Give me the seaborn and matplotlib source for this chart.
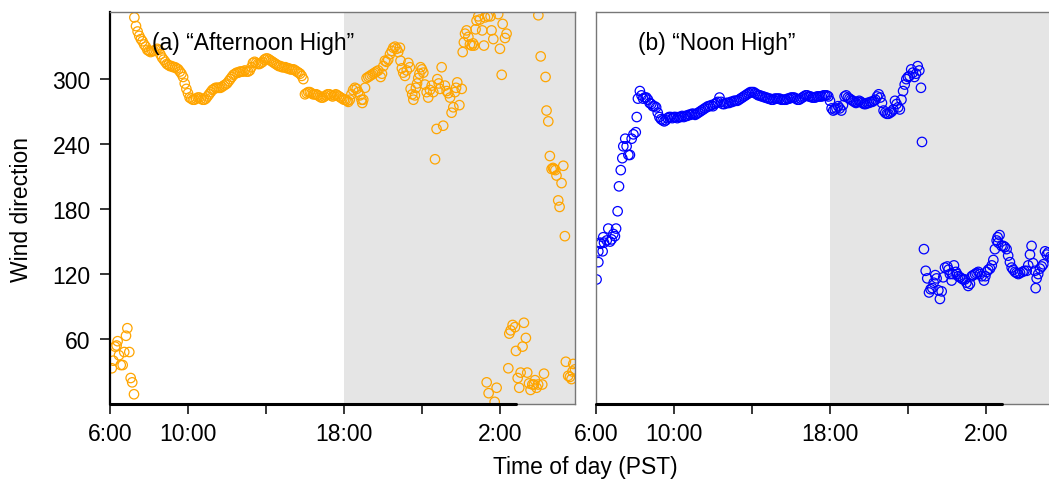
import numpy as np
import pandas as pd
import matplotlib
matplotlib.use("Agg")
import matplotlib.pyplot as plt
import seaborn as sns

sns.set_style("white")
plt.rcParams['font.family'] = ['Liberation Sans', 'DejaVu Sans']

# hours after 6:00 PST
tick_hours = [0, 4, 8, 12, 16, 20]
tick_labels = ["6:00", "10:00", "", "18:00", "", "2:00"]
y_ticks = [60, 120, 180, 240, 300]
night_start = 12

# ---------------- panel (a) "Afternoon High" ----------------
a_morning = [(0.09, 33), (0.17, 40), (0.26, 53), (0.34, 54), (0.39, 58), (0.46, 45),
             (0.55, 36), (0.65, 36), (0.73, 48), (0.82, 63), (0.89, 70), (0.99, 48),
             (1.06, 24), (1.14, 20), (1.23, 9)]
a_day_start = 1.25   # 5-minute readings from here
a_day = [357, 349, 344, 340, 337, 335, 332, 330, 327, 326, 325, 326,
         326, 327, 328, 327, 323, 320, 318, 316, 314, 313, 312, 312,
         311, 311, 310, 309, 307, 305, 302, 296, 291, 287, 283, 282,
         281, 281, 282, 283, 283, 282, 281, 281, 282, 284, 286, 288,
         290, 291, 292, 292, 292, 292, 293, 294, 295, 296, 298, 300,
         302, 304, 305, 306, 306, 307, 307, 307, 308, 307, 307, 308,
         311, 315, 316, 315, 314, 314, 315, 316, 318, 319, 319, 318,
         317, 316, 315, 314, 313, 312, 312, 311, 311, 311, 310, 310,
         309, 309, 309, 308, 307, 306, 305, 303, 300, 286, 287, 288,
         288, 287, 286, 286, 286, 285, 284, 283, 283, 284, 285, 286,
         286, 285, 284, 285, 286, 285, 284, 283, 282, 281, 281, 280]
a_night = [(12.22, 279), (12.3, 281), (12.38, 286), (12.47, 290), (12.56, 292), (12.65, 291),
           (12.73, 288), (12.82, 285), (12.9, 281), (12.94, 278), (12.99, 281), (13.08, 292),
           (13.16, 301), (13.25, 302), (13.33, 303), (13.42, 304), (13.5, 305), (13.59, 306),
           (13.67, 307), (13.76, 308), (13.88, 302), (13.95, 305), (14.02, 312), (14.1, 317),
           (14.18, 316), (14.27, 318), (14.36, 323), (14.45, 326), (14.53, 329), (14.62, 330),
           (14.7, 328), (14.78, 325), (14.87, 329), (14.9, 317), (14.97, 310), (15.04, 306),
           (15.13, 303), (15.22, 308), (15.3, 315), (15.38, 311), (15.42, 291), (15.5, 286),
           (15.56, 281), (15.64, 285), (15.69, 292), (15.75, 296), (15.81, 301), (15.87, 305),
           (15.93, 311), (16.0, 309), (16.07, 306), (16.15, 295), (16.24, 288), (16.32, 283),
           (16.41, 290), (16.5, 294), (16.58, 288), (16.67, 226), (16.75, 254), (16.79, 300),
           (16.86, 296), (16.92, 291), (17.01, 311), (17.09, 257), (17.18, 294), (17.27, 289),
           (17.35, 287), (17.44, 283), (17.52, 269), (17.61, 274), (17.69, 288), (17.75, 292),
           (17.81, 297), (17.92, 276), (18.04, 291), (18.09, 325), (18.15, 334), (18.21, 342),
           (18.29, 345), (18.38, 339), (18.46, 332), (18.55, 331), (18.62, 333), (18.67, 331),
           (18.75, 346), (18.8, 354), (18.89, 358), (18.97, 355), (19.09, 345), (19.18, 331),
           (19.23, 357), (19.32, 20), (19.38, 358), (19.42, 10), (19.52, 358), (19.57, 345),
           (19.66, 337), (19.73, 2), (19.83, 15), (19.91, 360), (20.0, 328), (20.09, 304),
           (20.14, 351), (20.26, 338), (20.34, 342), (20.43, 33), (20.48, 65), (20.55, 68),
           (20.65, 73), (20.77, 71), (20.82, 49), (20.91, 24), (20.99, 15), (21.06, 29),
           (21.16, 53), (21.23, 75), (21.33, 61), (21.4, 29), (21.49, 19), (21.57, 13),
           (21.66, 18), (21.74, 18), (21.8, 22), (21.88, 15), (21.96, 18), (21.97, 359),
           (22.09, 321), (22.17, 18), (22.26, 28), (22.34, 302), (22.39, 271), (22.48, 261),
           (22.56, 229), (22.65, 217), (22.72, 218), (22.77, 217), (22.84, 216), (22.9, 211),
           (22.99, 188), (23.06, 182), (23.16, 204), (23.25, 220), (23.33, 155), (23.38, 39),
           (23.5, 26), (23.59, 25), (23.67, 23), (23.72, 30), (23.76, 37), (23.85, 32)]

# ---------------- panel (b) "Noon High" ----------------
b_morning = [(0.03, 115), (0.12, 131), (0.12, 141), (0.21, 149), (0.24, 148), (0.34, 141),
             (0.37, 154), (0.41, 149), (0.55, 151), (0.63, 162), (0.72, 150), (0.8, 152),
             (0.89, 157), (0.97, 155), (1.03, 162), (1.11, 178), (1.18, 201), (1.27, 216),
             (1.35, 227), (1.4, 238), (1.5, 245), (1.57, 238), (1.66, 230), (1.74, 230),
             (1.83, 245), (1.92, 249), (2.04, 251), (2.09, 265), (2.15, 282)]
b_day_start = 2.25   # 5-minute readings from here
b_day = [289, 285, 282, 283, 283, 281, 278, 277, 275, 275, 274, 269,
         265, 263, 262, 261, 262, 264, 265, 265, 264, 265, 265, 264,
         265, 265, 266, 265, 266, 266, 267, 267, 268, 268, 267, 268,
         269, 270, 271, 272, 273, 274, 275, 275, 276, 275, 277, 278,
         279, 283, 279, 277, 277, 278, 278, 278, 279, 279, 280, 280,
         280, 281, 282, 283, 284, 285, 286, 287, 288, 288, 288, 287,
         286, 285, 285, 284, 284, 283, 283, 282, 282, 281, 281, 282,
         282, 282, 282, 281, 281, 281, 281, 282, 282, 283, 283, 283,
         282, 281, 281, 282, 283, 284, 285, 285, 284, 284, 283, 283,
         283, 284, 284, 284, 284, 285, 285, 285, 284, 280, 273, 271,
         272, 273, 275, 273, 271, 276, 284, 285, 283, 282, 281, 280,
         279, 278, 279, 280, 279, 278, 277, 277, 278, 278, 279, 279,
         280, 281, 284, 286, 283, 278, 271, 269, 268, 268, 269, 270,
         272, 280, 277, 274, 272, 281, 289, 295, 300, 302, 303, 309,
         306, 302, 305, 312, 308, 292]
b_night = [(16.72, 242), (16.82, 143), (16.91, 123), (16.99, 116), (17.08, 103), (17.16, 106),
           (17.25, 107), (17.32, 112), (17.4, 119), (17.47, 116), (17.56, 105), (17.64, 97),
           (17.73, 104), (17.81, 117), (17.9, 126), (18.02, 127), (18.08, 124), (18.15, 120),
           (18.24, 114), (18.3, 120), (18.36, 128), (18.46, 122), (18.52, 120), (18.58, 118),
           (18.67, 117), (18.75, 116), (18.83, 115), (18.92, 115), (19.0, 112), (19.09, 109),
           (19.18, 111), (19.27, 118), (19.35, 119), (19.44, 120), (19.52, 121), (19.61, 122),
           (19.7, 120), (19.78, 118), (19.9, 114), (19.97, 118), (20.04, 122), (20.12, 124),
           (20.21, 125), (20.3, 128), (20.38, 133), (20.46, 143), (20.55, 151), (20.6, 154),
           (20.63, 149), (20.7, 156), (20.8, 146), (20.89, 146), (20.97, 145), (21.06, 143),
           (21.14, 137), (21.23, 131), (21.32, 126), (21.4, 124), (21.49, 122), (21.57, 121),
           (21.66, 120), (21.75, 121), (21.88, 122), (21.97, 123), (22.09, 123), (22.17, 128),
           (22.26, 138), (22.34, 146), (22.42, 130), (22.51, 123), (22.55, 107), (22.6, 116),
           (22.68, 120), (22.77, 125), (22.86, 127), (22.94, 129), (23.03, 141), (23.12, 138),
           (23.2, 140), (23.3, 136), (23.4, 134)]


def build(morning, day_start, day, night):
    hours = ([p[0] for p in morning] + [day_start + i / 12 for i in range(len(day))]
             + [p[0] for p in night])
    dirs = [p[1] for p in morning] + list(day) + [p[1] for p in night]
    return pd.DataFrame({"hour": hours, "direction": dirs})


df_a = build(a_morning, a_day_start, a_day, a_night)
df_b = build(b_morning, b_day_start, b_day, b_night)

FS = 16.5
W, H = 1049, 485
fig = plt.figure(figsize=(W / 100, H / 100), dpi=100)
ax_a = fig.add_axes([110 / W, 80 / H, 465 / W, 392 / H])
ax_b = fig.add_axes([596 / W, 80 / H, 465 / W, 392 / H])

panels = [(ax_a, df_a, "#FFA500", "(a) \u201cAfternoon High\u201d"),
          (ax_b, df_b, "#0000FF", "(b) \u201cNoon High\u201d")]

for ax, df, col, title in panels:
    ax.axvspan(night_start, 30, color="#E5E5E5", lw=0, zorder=0)
    sns.scatterplot(data=df, x="hour", y="direction", ax=ax, marker="o",
                    facecolor="none", edgecolor=col, s=46, linewidth=0.9, zorder=2)
    ax.set_xlim(0, 23.85)
    ax.set_ylim(0, 362)
    ax.set_xlabel("")
    ax.set_ylabel("")
    ax.set_xticks(tick_hours)
    ax.set_xticklabels(tick_labels)
    ax.tick_params(axis="x", bottom=True, direction="out", length=7, width=1.1,
                   color="black", labelsize=FS, pad=6, labelcolor="black")
    for side in ["top", "right", "left", "bottom"]:
        ax.spines[side].set_color("#777777")
        ax.spines[side].set_linewidth(1.0)
    ax.plot([0, 20.8], [0, 0], color="black", lw=2.2, clip_on=False, zorder=5)
    ax.text(0.09, 0.923, title, transform=ax.transAxes, fontsize=FS,
            ha="left", va="center", zorder=6, color="black")

ax_a.set_yticks(y_ticks)
ax_a.tick_params(axis="y", left=True, direction="out", length=7, width=1.1,
                 color="black", labelsize=FS, pad=7, labelcolor="black")
ax_a.spines["left"].set_color("black")
ax_a.spines["left"].set_linewidth(1.6)
ax_b.set_yticks([])

fig.text(22 / W, 1 - 209 / H, "Wind direction", rotation=90, ha="center",
         va="center", fontsize=FS, color="black")
fig.text(585 / W, 1 - 468 / H, "Time of day (PST)", ha="center", va="center",
         fontsize=FS, color="black")

fig.savefig("out.png", dpi=100)
